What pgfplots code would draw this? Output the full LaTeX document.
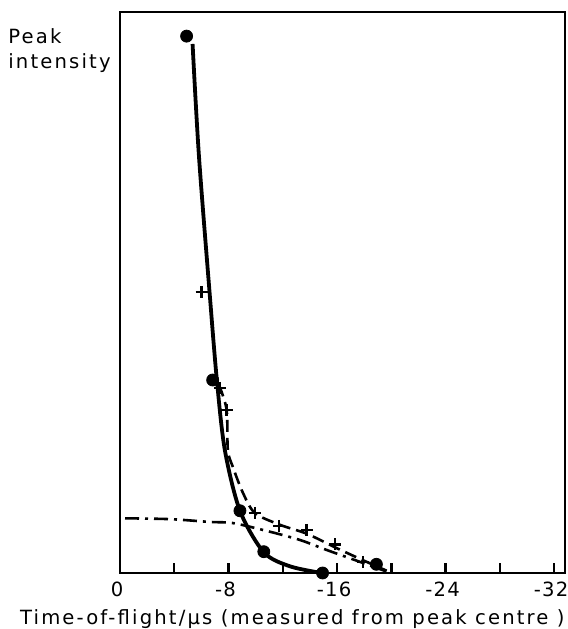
\documentclass[border=0pt]{standalone}
\usepackage{pgfplots}
\pgfplotsset{compat=1.18}
\usepackage{fontspec}
\setmainfont{DejaVu Sans}[LetterSpace=11]
\begin{document}
\fontsize{9.8}{12.5}\selectfont
\begin{tikzpicture}
\begin{axis}[
  scale only axis, width=222.5pt, height=280.5pt,
  x dir=reverse, xmin=-32.8, xmax=0, ymin=0, ymax=100,
  axis line style={line width=1.4pt},
  xtick={0,-8,-16,-24,-32}, xticklabels={0,-8,-16,-24,-32},
  minor xtick={-4,-12,-20,-28},
  ytick=\empty, xtick pos=bottom, tick align=inside,
  major tick length=5pt, minor tick length=5pt,
  tick style={line width=1.2pt, black},
  xticklabel style={yshift=-1pt, xshift=-1.5pt, font=\addfontfeature{LetterSpace=6}},
  clip=false]
% solid curve
\addplot[line width=1.9pt, smooth, tension=0.5] coordinates {
 (-5.35,94.3)(-5.82,74.3)(-6.63,49.2)(-7.14,34.4)(-7.73,21.9)
 (-8.84,11.1)(-10.60,3.7)(-12.52,1.2)(-14.87,0)};
% dashed curve
\addplot[line width=1.3pt, smooth, tension=0.5, dash pattern=on 6pt off 3pt] coordinates {
 (-7.3,33.5)(-7.86,29.1)(-7.95,21.9)(-8.32,18.9)(-9.06,14.3)(-9.94,10.7)
 (-11.78,8.6)(-13.77,7.0)(-15.83,4.6)(-17.89,2.3)(-19.66,0.4)};
% dash-dot curve
\addplot[line width=1.3pt, smooth, tension=0.5, dash pattern=on 7pt off 3pt on 1.5pt off 3pt] coordinates {
 (-0.37,9.75)(-3.68,9.6)(-6.63,9.1)(-8.32,8.9)(-10.82,7.5)(-13.25,5.9)
 (-15.24,4.1)(-17.67,2.0)(-19.6,0.3)};
% filled circles
\addplot[only marks, mark=*, mark size=3pt, black] coordinates {
 (-4.91,95.7)(-6.83,34.4)(-8.84,11.1)(-10.60,3.8)(-14.93,0)(-18.90,1.55)};
% crosses
\addplot[only marks, mark=+, mark size=3pt, line width=1.2pt, black] coordinates {
 (-6.02,50.1)(-7.36,33.0)(-7.86,29.1)(-9.94,10.7)(-11.71,8.4)(-13.75,7.7)
 (-15.83,5.1)(-17.89,2.0)};
\node[anchor=north west, align=left, inner sep=0pt] at ([xshift=-56pt,yshift=-8pt]axis description cs:0,1) {Peak\\intensity};
\node[anchor=north east, inner sep=0pt] at ([yshift=-18pt]axis description cs:1,0) {Time-of-flight/\textmu s (measured from peak centre )};
\coordinate (ll) at (axis description cs:0,0);
\end{axis}
\pgfresetboundingbox
\path[use as bounding box] (ll) ++(-60pt,-28pt) rectangle ++(284pt,314.5pt);
\end{tikzpicture}
\end{document}
